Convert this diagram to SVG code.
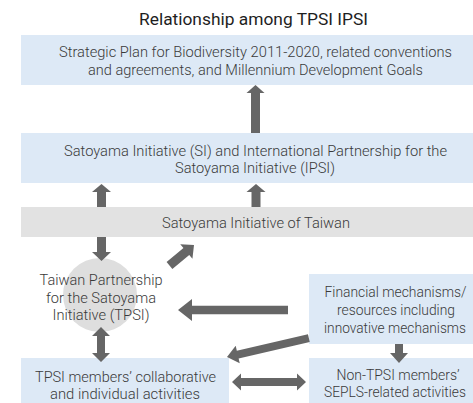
<svg xmlns="http://www.w3.org/2000/svg" width="473" height="403" viewBox="0 0 473 403">
<style>
.bb{fill:#dde9f6}
.gb{fill:#e2e2e2}
.ci{fill:#dedede}
.t{font-family:Roboto,"Liberation Sans",sans-serif;font-size:15.5px;font-weight:300;fill:#3a3a3a;text-anchor:middle}
.s{font-size:14.5px}
.ti{font-family:Roboto,"Liberation Sans",sans-serif;font-size:17px;font-weight:400;fill:#1e1e1e;text-anchor:middle}
.ar{fill:#666}
</style>
<rect width="473" height="403" fill="#fff"/>
<text class="ti" x="253.5" y="25" textLength="229" lengthAdjust="spacingAndGlyphs">Relationship among TPSI IPSI</text>
<g id="n1">
<rect class="bb" x="21" y="35" width="452" height="50"/>
<text class="t" x="255.5" y="57" textLength="393" lengthAdjust="spacingAndGlyphs">Strategic Plan for Biodiversity 2011-2020, related conventions</text>
<text class="t" x="255.5" y="75" textLength="335" lengthAdjust="spacingAndGlyphs">and agreements, and Millennium Development Goals</text>
</g>
<g id="n2">
<rect class="bb" x="21" y="133" width="452" height="50"/>
<text class="t" x="255.5" y="156" textLength="383" lengthAdjust="spacingAndGlyphs">Satoyama Initiative (SI) and International Partnership for the</text>
<text class="t" x="255" y="173" textLength="160" lengthAdjust="spacingAndGlyphs">Satoyama Initiative (IPSI)</text>
</g>
<g id="n3">
<rect class="gb" x="21" y="207" width="452" height="30"/>
<text class="t" x="256" y="228" textLength="188" lengthAdjust="spacingAndGlyphs">Satoyama Initiative of Taiwan</text>
</g>
<g id="n4">
<circle class="ci" cx="100" cy="295" r="37"/>
<text class="t" x="101" y="285" textLength="123" lengthAdjust="spacingAndGlyphs">Taiwan Partnership</text>
<text class="t" x="101" y="303" textLength="110" lengthAdjust="spacingAndGlyphs">for the Satoyama</text>
<text class="t" x="101" y="320" textLength="97" lengthAdjust="spacingAndGlyphs">Initiative (TPSI)</text>
</g>
<g id="n5">
<rect class="bb" x="309" y="274" width="164" height="70"/>
<text class="t s" x="395.5" y="297" textLength="142" lengthAdjust="spacingAndGlyphs">Financial mechanisms/</text>
<text class="t" x="396" y="315" textLength="118" lengthAdjust="spacingAndGlyphs">resources including</text>
<text class="t s" x="395" y="333" textLength="142" lengthAdjust="spacingAndGlyphs">innovative mechanisms</text>
</g>
<g id="n6">
<rect class="bb" x="21" y="358" width="208" height="45"/>
<text class="t" x="125.5" y="382" textLength="181" lengthAdjust="spacingAndGlyphs">TPSI members’ collaborative</text>
<text class="t" x="125" y="399" textLength="150" lengthAdjust="spacingAndGlyphs">and individual activities</text>
</g>
<g id="n7">
<rect class="bb" x="309" y="358" width="164" height="45"/>
<text class="t" x="398" y="380" textLength="123" lengthAdjust="spacingAndGlyphs">Non-TPSI members’</text>
<text class="t s" x="395" y="397" textLength="142" lengthAdjust="spacingAndGlyphs">SEPLS-related activities</text>
</g>
<g id="connectors" class="ar">
<path d="M255.5,85 L264.5,93 L260,93 L260,133 L251,133 L251,93 L246.5,93 Z"/>
<path d="M101.5,184 L111,192 L106,192 L106,207 L97,207 L97,192 L92,192 Z"/>
<path d="M256,184 L265.5,192 L260.5,192 L260.5,207 L251.5,207 L251.5,192 L246.5,192 Z"/>
<path d="M101.5,261 L111,252 L106,252 L106,237 L97,237 L97,252 L92,252 Z"/>
<path transform="translate(194,245) rotate(-40)" d="M0,0 L-10,-9.5 L-10,-4.5 L-32,-4.5 L-32,4.5 L-10,4.5 L-10,9.5 Z"/>
<path transform="translate(178,310) rotate(180)" d="M0,0 L-14,-11 L-14,-4.3 L-110,-4.3 L-110,4.3 L-14,4.3 L-14,11 Z"/>
<path transform="translate(227,357) rotate(167)" d="M0,0 L-11,-9 L-11,-4 L-84,-4 L-84,4 L-11,4 L-11,9 Z"/>
<path d="M399,363 L408,353 L403,353 L403,344 L395,344 L395,353 L390,353 Z"/>
<path d="M232,382 L241,373.5 L241,378 L297,378 L297,373.5 L306,382 L297,390.5 L297,386 L241,386 L241,390.5 Z"/>
<path d="M101,327 L110,336 L105,336 L105,353 L110,353 L101,362 L92,353 L97,353 L97,336 L92,336 Z"/>
</g>
</svg>
